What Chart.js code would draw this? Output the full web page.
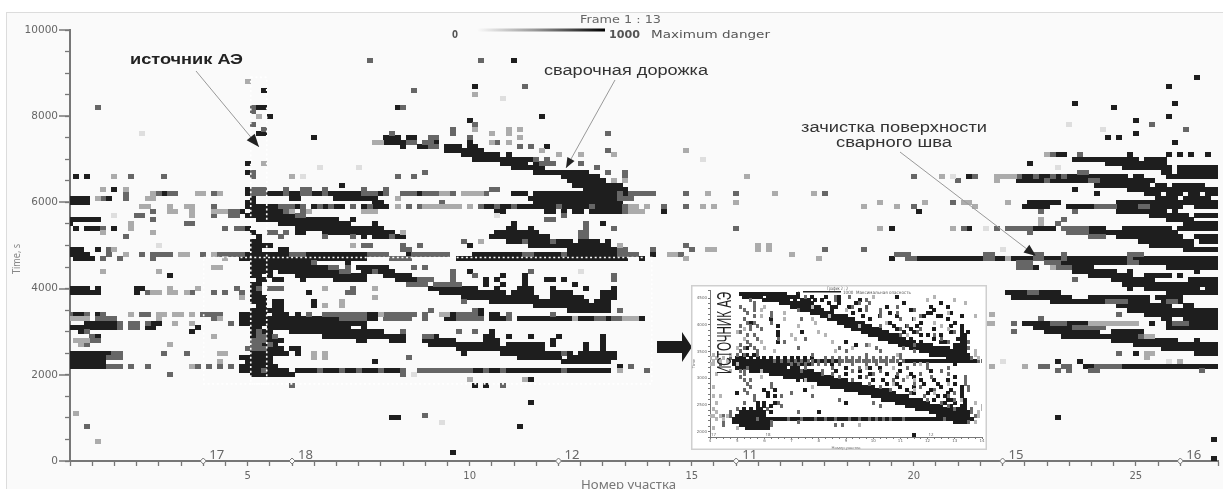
<!DOCTYPE html>
<html>
<head>
<meta charset="utf-8">
<title>Frame 1 : 13</title>
<script src="https://cdn.jsdelivr.net/npm/chart.js@4"></script>
<style>
    html, body { margin: 0; padding: 0; background: #fff; overflow: hidden; }
    #mainChart { position: absolute; left: 0; top: 0; filter: blur(0.45px); }
    #insetChart { position: absolute; left: 691px; top: 285px; filter: blur(0.4px); }
</style>
</head>
<body>
<canvas id="mainChart" width="1223" height="489"></canvas>
<canvas id="insetChart" width="296" height="165"></canvas>
<script>
// cells are [time, [location steps]], one step = 1/8 of a section
const darkCells = [
    [9300,[80]],[8900,[203]],[8700,[73,198]],[8600,[35]],[8300,[181,199]],[8200,[34,35,59,188]],
    [8000,[36,85,198]],[7900,[72,192]],[7800,[33]],[7600,[34,35,192,97]],[7500,[44,57,58,59,61,62,187,189]],
    [7400,[56,57,58,59,60,66,72,199]],[7300,[60,63,64,68,69,70,72,73,86]],[7200,[68,69,70,71,72,73,74]],
    [7100,[71,72,73,74,75,76,77,79,178,179,191,198,200,202,205]],
    [7000,[73,74,75,76,77,78,79,80,81,82,83,181,182,183,184,185,186,187,188,189,190,191,192,194,195,196,197]],
    [6900,[32,78,79,80,81,82,84,173,187,188,189,190,191,192,193,194,195,196,197]],
    [6800,[80,81,82,83,84,85,190,191,192,193,194,195,196,197,198,200,201,202,203,204,205,206,207]],
    [6700,[32,84,85,86,87,88,89,90,91,92,93,197,198,200,201,202,203,204,205,206,207]],
    [6600,[1,3,89,90,91,92,93,94,95,172,173,175,176,178,180,181,182,183,184,185,186,187,188,189,190,192,193,198,199,200,201,202,203,204,205,206,207,162]],
    [6500,[90,91,92,93,94,95,96,171,172,173,174,175,177,178,179,180,181,182,183,186,187,188,189,190,191,192,193,194,195]],
    [6400,[49,91,92,93,94,95,96,97,98,99,185,186,187,188,189,190,191,192,193,194,196,197,199,200,201,202,203,204]],
    [6300,[8,32,93,94,95,96,97,98,99,100,181,191,192,193,194,195,196,197,198,199,200,201,202,203,204,205,206,207]],
    [6200,[17,32,36,37,38,40,41,44,45,47,48,49,50,51,52,54,55,56,63,80,81,82,84,85,86,87,88,89,90,91,92,93,94,95,96,97,98,99,100,185,194,195,196,198,199,200,202,203,205,206,207]],
    [6100,[0,1,2,3,7,33,40,41,48,49,50,51,52,53,54,55,83,84,85,86,87,88,89,90,91,92,93,94,95,96,97,98,99,100,196,197,198,199,201,202,203,204,205]],
    [6000,[0,1,2,3,32,33,55,56,84,85,86,87,88,89,90,91,92,93,94,95,96,97,98,99,173,174,175,176,177,178,189,190,191,192,193,194,195,196,197,198,199,200,201,202,203,204,205,206,207]],
    [5900,[32,33,34,35,36,37,41,44,46,48,49,53,55,56,57,75,76,78,79,81,82,83,84,85,86,87,89,90,91,92,93,95,96,97,98,99,172,173,174,175,176,180,181,182,183,184,189,190,191,192,193,194,195,196,197,198,199,200,203,204,205,206,207]],
    [5800,[31,33,34,35,36,37,38,77,78,86,87,89,91,92,94,95,96,97,98,99,100,107,153,189,190,191,192,193,194,195,196,197,199]],
    [5700,[32,33,34,35,36,37,38,39,40,195,196,197,198,199,200,201,203,204,205,206,207]],
    [5600,[0,1,2,3,4,5,34,35,36,37,38,39,40,41,42,43,44,45,46,47,48,51,198,199,200,201,202]],
    [5500,[0,38,39,40,41,42,43,44,45,46,47,48,49,50,55,80,96,201,202,203,204,205,206,207]],
    [5400,[1,3,4,5,8,32,41,42,43,44,45,46,47,48,49,50,51,52,53,54,55,56,79,80,83,148,162,174,175,176,177,184,185,186,190,191,192,193,194,195,196,197,198,200,201,202,203,204,205,206,207]],
    [5300,[33,41,42,46,47,48,49,50,51,52,53,54,55,56,57,58,77,78,79,80,81,82,83,84,184,185,186,187,188,189,190,191,192,193,194,195,196,197,198,199]],
    [5200,[34,53,55,56,57,58,59,60,76,77,78,79,80,81,82,83,84,85,86,189,190,191,192,193,194,195,196,197,198,199,200,203,204,205,206,207]],
    [5100,[33,34,79,80,81,82,83,84,85,86,87,88,89,90,92,93,94,95,97,193,194,195,196,197,198,199,200,201,202,204,205,206,207]],
    [5000,[33,34,35,36,72,83,84,85,86,87,88,89,90,91,92,93,94,95,96,97,195,196,197,198,199,200,201,202]],
    [4900,[0,1,2,5,33,34,38,39,90,91,92,93,94,95,96,97,98,99,201,202,203,204,205,206,207]],
    [4800,[0,1,2,3,31,32,33,34,35,36,37,38,39,43,44,45,46,47,48,49,50,51,52,53,61,73,74,75,76,77,78,79,80,81,84,85,86,87,88,90,91,92,93,94,95,96,97,98,105]],
    [4700,[1,2,3,4,31,32,33,34,35,36,37,38,39,40,41,42,43,44,45,46,47,48,49,50,51,52,53,70,71,72,73,74,75,76,77,78,79,80,81,82,83,84,85,86,87,88,89,90,91,92,93,94,95,96,97,98,99,100,103,148,153,154,155,156,157,158,159,160,161,162,163,164,165,167,168,169,170,171,172,173,176,177,178,180,181,182,183,184,185,186,187,188,189,190,192,193,194,195,196,197,198,199,200,201,202,203,204,205,206,207]],
    [4600,[33,34,35,36,37,38,39,40,41,42,43,50,178,179,180,181,182,183,184,185,186,187,188,189,190,193,194,195,196,197,198,199,200,201,202,203,204,205,206,207]],
    [4500,[33,34,35,36,37,38,39,40,41,42,43,44,45,46,52,53,54,55,56,57,174,181,182,183,184,198,199,200,201,202,203,204,205,206,207]],
    [4400,[33,34,35,36,38,39,40,41,42,43,44,45,46,47,48,49,50,53,54,55,56,57,58,72,181,182,183,184,185,186,187,188,191,203]],
    [4300,[18,33,34,36,41,42,43,44,45,46,47,48,49,50,51,52,53,57,58,59,60,61,78,82,184,185,186,187,188,189,190,191,194,195,196,197,198,200]],
    [4200,[34,35,37,38,42,48,49,50,51,52,53,59,60,61,62,75,77,82,86,87,89,188,189,190,191,192,193,194,195,202,203,204,205,206,207]],
    [4100,[33,34,75,78,82,91,190,191,192,193,194,195,196,197,198,199,200,201,202,203,204,205,206,207]],
    [4000,[0,1,2,3,5,12,13,33,34,36,65,66,67,68,69,70,71,72,73,77,81,82,83,87,93,98,191,194,195,196,197,198,199,200,201,202,203,205,206,207]],
    [3900,[0,1,2,3,4,5,12,33,34,43,67,68,69,70,71,72,73,74,75,76,77,78,80,81,82,83,87,88,89,90,96,97,98,169,170,171,172,175,176,177,178,198,199,200,201,202,203,204,205,206,207]],
    [3800,[33,34,35,71,72,73,74,75,76,77,78,79,80,81,82,83,84,87,88,89,90,91,92,96,97,98,170,171,172,173,174,175,176,177,178,179,180,184,185,186,187,188,189,190,191,192,193,194,196,197,198,199,200]],
    [3700,[33,34,35,37,38,44,76,77,78,79,80,81,82,83,84,85,86,87,88,89,90,91,92,93,95,96,97,177,178,179,180,181,182,183,184,185,186,191,192,193,194,197,200]],
    [3600,[34,35,37,38,44,84,85,86,87,88,89,90,91,92,93,94,95,96,97,189,190,191,192,193,194,195,196,197,198,201,202]],
    [3500,[33,34,35,36,37,38,74,90,91,92,93,94,95,96,97,191,192,193,194,195,196,197,198,199,200,201,202,203,204,205,206,207]],
    [3400,[1,2,5,31,32,33,34,35,37,38,39,41,54,55,69,74,76,77,194,195,196,197,198,199,200,201,202,203,204,205,206,207]],
    [3300,[31,32,33,34,35,36,37,38,39,40,41,42,43,44,45,46,47,48,54,55,68,69,76,77,78,81,82,83,84,85,86,87,88,89,90,91,92,93,94,97,103,197,198,201,202,203,204,205,206,207]],
    [3200,[3,4,5,6,7,8,15,16,31,32,33,34,35,36,37,38,39,40,41,42,43,44,45,46,47,48,49,50,51,52,53,172,173,174,175,176,180,181,182,183,195,198,202,203,204,205,206,207]],
    [3100,[0,1,2,3,4,5,6,7,8,14,15,23,33,34,36,37,38,39,40,41,42,43,44,45,46,47,48,49,50,53,174,175,176,177,178,179,180,198,199,200,201,202,203,204,205,206,207]],
    [3000,[2,22,33,35,36,40,41,42,43,44,45,46,47,48,49,50,51,52,53,54,55,56,76,176,177,178,179,180,181,182,183,184,185,188,189,190,191,192,193]],
    [2900,[5,33,36,46,47,48,49,50,51,52,53,54,55,56,57,58,59,60,64,65,66,75,76,79,83,88,96,179,180,181,182,183,184,185,186,187,188,189,190,191,192]],
    [2800,[36,37,38,52,53,58,59,60,64,65,66,67,68,69,75,76,77,87,96,188,189,190,191,192,193,194,195,196,197,198,199,203]],
    [2700,[35,37,65,66,67,68,69,70,71,72,73,74,75,76,77,79,80,81,82,83,84,85,87,93,96,192,193,194,195,196,197,198,199,200,201,202,203,204,205,206,207]],
    [2600,[36,37,38,40,41,70,71,72,73,74,75,76,77,78,79,80,81,82,83,84,85,93,96,197,198,199,200,201,202,203,204,205,206,207]],
    [2500,[0,1,2,3,4,5,6,7,33,34,35,36,37,38,39,41,71,78,79,80,81,82,83,84,85,86,87,88,89,90,92,93,94,95,96,97,98,192,203,204,205,206,207]],
    [2400,[0,1,2,3,4,5,6,31,32,33,34,35,36,81,82,83,84,85,86,87,88,90,91,92,93,94,95,96,97,98]],
    [2300,[0,1,2,3,4,5,6,32,33,34,35,36,55,89,90,91,92,93,94,95,96,97,178,182]],
    [2200,[0,1,2,3,4,5,6,31,32,33,34,35,36,37,99,183,184,190,191,192,193,194,195,196,197,198,199,200,201,202,203,204,205,206,207]],
    [2100,[31,32,33,34,35,36,37,38,39,41,42,43,44,46,47,48,50,51,53,54,55,57,58,59,73,74,76,77,79,80,81,82,83,84,85,86,87,88,90,91,92,93,94,95,96,97]],
    [2000,[33,34,35,36,37,38,39,40]],
    [1900,[83]],[1750,[75,73]],[1350,[83]],[1000,[58,59]],[800,[81]],[200,[69]],
    [1000,[178]],[500,[206]],[50,[206]]
];
const midCells = [
    [9300,[54,74]],[8700,[82]],[8600,[62]],[8200,[5,33,60]],[8100,[33]],[7800,[33,73,195]],[7700,[35,69,201]],
    [7600,[58,69,97]],[7500,[65,66,72]],[7400,[61,62,64,65,77]],[7300,[65,66,81,83]],[7200,[97]],
    [7100,[176,177,182]],[7000,[84,86]],[6900,[92,85,86,87]],[6800,[95]],[6700,[33,64,97,100,182,183]],
    [6600,[11,17,33,59,62,100,152,163,171,174,177,179]],[6500,[160,176,184,185]],
    [6300,[33,34,35,39,42,43,46,53,57,76,77]],
    [6200,[10,16,18,19,26,33,34,35,39,42,43,46,53,54,55,57,60,61,62,64,65,66,69,75,101,104,111,120,136,99,102,103,105]],
    [6100,[6,10,99,100,101]],[6000,[67,159,169]],
    [5900,[26,38,39,40,42,45,47,51,54,61,63,74,77,80,88,94,100,101,107,111,152,185,186,187,188,193,194]],
    [5800,[15,29,30,39,42,53,100,175,181]],[5700,[12,13,26,29,30,41,42,89]],[5600,[15,86,87,179]],
    [5500,[21,22,93,178]],[5400,[6,28,30,31,93,98,120,161,167,169,170,171,172,173,179,180,181,182,183]],
    [5300,[36,37,39,92,93,173,180,181,182,183]],[5200,[10,38,46,51,92,93,184,185,186,58]],
    [5100,[71,82,87]],[5000,[60,63,111,53,54]],[4900,[7,99,100,105,112,136,143,60,61]],
    [4800,[7,13,15,16,17,18,24,27,28,29,30,31,40,41,42,54,55,56,57,62,63,64,65,66,67,68,82,83,89,99,100,101,102,109,110,149,150,151,165,166,174,175,179,191,192,193]],
    [4700,[6,9,15,58,59,60,61,151,152,165,166,174,175,179,191]],[4600,[44,171,172,173,176,177,178,191,192]],
    [4500,[47,48,50,62,64,171,172,173,178,179,180]],[4400,[49,50,69,55,83]],[4300,[73,98,69]],[4200,[63,64,65,69,98,181]],
    [4100,[61,62,63,64,66,67,68,69,70]],[4000,[30,34,36,37,38,46,51]],[3900,[14,22,26,28,31,50,51,173,174]],
    [3700,[71,187,188,189,190,198,199]],[3600,[46]],[3500,[65,73,99]],
    [3400,[0,3,6,13,14,24,25,26,27,43,46,47,48,49,50,51,52,53,57,58,59,60,61,62,64,70,71,72,73,79,87,189]],
    [3300,[5,6,7,8,26,49,50,51,52,53,57,58,59,60,61,64,70,71,72,73,74,79,95,96,98,99,175]],
    [3200,[9,11,12,14,29,177,178,179,184,185,186,187,199,200,201,170]],[3100,[9,11,12,181,182,183,184,185,186]],
    [3000,[3,34,60,70,73,170]],[2900,[4,34,35,37,64,65,193,194,195]],[2800,[4,5,33,34,35]],
    [2700,[3,33,34,36]],[2600,[32,33,34,35]],[2500,[8,9,17,21,89,189]],[2400,[7,8,9,61]],
    [2200,[7,8,9,11,14,23,25,27,29,175,176,179,180,185,186,187,188,189,101]],
    [2100,[35,45,49,52,56,60,63,64,65,66,67,68,69,70,71,72,75,78,89,99,104,178,180,184,185,204]],
    [2000,[18,60]],[1750,[40,78]],[1050,[64]],[800,[3]]
];
const lightCells = [
    [7600,[76,79]],[8500,[73]],[8000,[34]],[7700,[73,79,81]],[8800,[32]],[6900,[35]],
    [7500,[81]],[7400,[55,56,76,79]],[7200,[85,111]],[7100,[88,92,98,176]],
    [6600,[8,40,122,157,167,168,169,170]],[6500,[98,100,167]],[6300,[6,10]],
    [6200,[15,23,24,27,67,68,71,72,73,74,115,127,134]],[6100,[5,14,15,59]],[6000,[120,146,154,161,162,169]],
    [5900,[13,14,18,21,22,59,64,65,66,67,68,69,70,72,101,102,104,114,116,143,149,163]],
    [5800,[18,19,22,26,27,28,40,43,53,54,55,101,102,103]],[5700,[22]],[5600,[175]],[5500,[11,175]],
    [5400,[11,146,159]],[5300,[6,15,60]],[5100,[74]],[5000,[99,51,124,126]],[4900,[8,115,116,124,126]],
    [4800,[10,20,21,26,108,109,130]],[4700,[28,111,169,135]],[4500,[26,27,177]],[4400,[6,16]],[3900,[15,16,18,21,19]],
    [4000,[18,23,46,55]],[3800,[31,55]],[3700,[49]],[3600,[49,46]],[3400,[11,16,17,19,20,22,56,67,68,166]],
    [3300,[0,1,2,3,16,27,91,100,101,102]],[3200,[19,22,166,184,185,186,187,188,189,190,191,192,165]],
    [2900,[26,194,195]],[2800,[1,2,3]],[2700,[2,18]],[2500,[27,28,44,46,194,195]],[2400,[194,44,46]],
    [2300,[27,200]],[2200,[22,166,172]],[2100,[150,99]],[1900,[72,82]],[1100,[1]],[450,[5]]
];
const paleCells = [
    [7600,[13]],[8400,[78]],[7800,[180]],[7700,[186]],[7000,[114]],[6800,[45,52,178]],[6600,[42,159]],
    [5700,[8,77]],[5400,[165]],[5000,[16]],[4900,[168]],[4400,[92]],[3400,[148]],[2300,[168,198]],[2000,[62]],[900,[67]]
];
// the zoomed copy of the dotted box
const insetTimes = [4580,4520,4460,4400,4340,4280,4220,4160,4100,4040,3980,3920,3860,3800,3740,3680,3620,3560,3500,3440,3380,3320,3260,3200,3140,3080,3020,2960,2900,2840,2780,2720,2660,2600,2540,2480,2420,2360,2300,2240,2180,2120,2060,2000,1940];
const insetDark = [
    [9,10,11,12,13,14,15,16,17,18,19,20,21,22,26],
    [10,11,12,13,14,15,17,18,19,20,21,22,23,24,25,26,30,34,38,55],
    [16,17,18,19,20,21,22,23,25,27,28,29,31,33,38,44],
    [21,22,23,24,25,26,27,28,29,30,35,38,43,57,68],
    [24,25,26,27,28,29,30,31,32,36,37,41,52,65,70],
    [27,28,29,30,31,32,33,36,44,59,66],
    [30,31,32,33,34,35,36,42,53,64,65,71],
    [33,34,35,36,37,38,39,40,45,50,55,63,67,68,74],
    [35,36,37,38,39,40,41,42,47,18,60,70],
    [38,39,40,41,42,43,44,45,53,62,12,72],
    [20,40,41,42,43,44,45,46,47,54,58,61,71,74],
    [42,43,44,45,46,47,48,49,50,55,59,66,74],
    [20,27,45,46,47,48,49,50,51,52,57,60,71,74,76],
    [20,47,48,49,50,51,52,53,54,55,62,64,68,74,75],
    [50,51,52,53,54,55,56,57,59,66,73,74,75],
    [20,40,53,54,55,56,57,58,59,60,62,68,69,74,75],
    [43,56,57,58,59,60,61,62,63,64,65,72,73,74,75],
    [11,59,60,61,62,63,64,65,66,67,68,69,70,72,73,74,75],
    [62,63,64,65,66,67,68,69,70,71,72,73,74,75],
    [10,11,13,65,66,67,68,69,70,71,72,73,74,75,76],
    [8,9,10,12,14,16,18,20,22,24,26,28,30,70,71,72,73,74,75,76],
    [7,8,9,10,11,12,13,14,15,16,17,18,20,22,24,26,28,31,33,35,37,58,59,60,61,62,63,64,65,66,67,68,69,70,71,72,73,74,75,76,77,78],
    [7,8,9,10,11,12,13,14,15,16,17,18,19,20,21,22,23,25,27,29,36,56,72],
    [8,9,10,11,12,13,14,15,16,17,18,19,20,21,22,24,25,26,40,47,50],
    [12,13,14,15,16,17,18,19,20,21,22,23,24,25,26,28,29,30,37,44,56,65],
    [18,19,20,21,22,23,24,25,26,27,28,29,30,31,32,40,47,52,59],
    [22,23,24,25,26,27,28,29,30,31,32,33,34,35,36,44,55,60,72],
    [26,28,29,30,31,32,33,34,35,36,37,38,39,40,48,51,62,66,70],
    [32,33,34,35,36,37,38,39,40,41,42,43,44,52,55,63,67,72],
    [36,37,38,39,40,41,42,43,44,45,46,47,48,56,60,68,74],
    [16,19,28,40,41,42,43,44,45,46,47,48,49,50,51,52,58,65,71,74],
    [8,17,44,45,46,47,48,49,50,51,52,53,54,60,64,70,74],
    [17,19,48,49,50,51,52,53,54,55,56,57,58,67,69,74],
    [51,52,53,54,55,56,57,58,59,60,61,62,66,70,71,74,75],
    [14,16,19,40,55,56,57,58,59,60,61,62,63,64,69,72,75],
    [14,16,18,58,59,60,61,62,63,64,65,66,67,68,71,74,75],
    [10,12,14,15,61,62,63,64,65,66,67,68,69,70,71,72,73,74,75],
    [9,10,11,12,13,14,15,16,18,32,65,66,67,68,69,70,71,72,73,74,75,76],
    [8,9,10,11,12,13,14,15,16,67,68,69,70,71,72,73,74,75,76],
    [7,8,9,10,11,12,13,14,15,16,17,18,19,20,21,22,24,25,26,28,29,30,32,33,35,36,38,39,40,42,43,45,46,48,50,52,54,55,56,58,59,60,61,62,63,64,65,66,67,68,70,71,72,73,74,75,76,77],
    [7,8,9,10,11,12,13,14,15,16,17,72,73,74,75],
    [9,10,11,12,13,14,15,16,17],
    [11,12,13,14,15,16,17],
    [],[60]
];
const insetMid = [
    [],[28,37,41],[37,46,12],[13,44,47],[9,13,42,46,55],[10,13,50,46,60,26],[11,50,55,18],[13,18,62,50],[10,56,27,22],[11,13,18,66,31],
    [9,12,14,58,50],[12,15,62,56],[9,61,72],[11,13,56,66],[10,14,20,28,68],[11,22,70,76],[9,12,46,60],[10,13,26,38,49,57,76],[9,14,40,50,60],[8,10,14,30,46,56],
    [6,34,36,38,40,42,44,46,48,50,52,54,56,77],[19,21,23,25,27,29,30,32,34,36,38,39,40,41,42,43,44,45,46,47,48,49,50,51,52,53,54,55,57,79,80,81],[3,24,26,28,30,32,34,38,42,46,49,52,60,64],[11,28,36,44,58,64,70],[9,10,27,33,42,50,68],[10,33,36,48,55,62,70],[9,38,46,65,75],[10,12,42,54,57,75],[11,18,47,60,70,75],[12,18,50,62,76],
    [10,53,66,76],[11,24,59,72],[13,21,30,63,70],[13,38,64,72],[10,20,48,68],[21,50,70],[8,17,72,77],[6,26,77],[4,5,6,78],[14,23,27,31,34,37,41,44,47,49,51,53,57,69],[4,18,26,76],[4,18,37,39],[],[],[]
];
const insetLight = [
    [],[48,66],[64,72],[75],[16,30],[15,40],[22,70],[15,35,78],[22,30,60],[31,52,66],
    [26,44,68],[10,70],[8,32],[24,34,58],[10,25],[15,36],[47],[8,16,42],[19,37,78],[1,6,55,78],
    [0,2,4,79],[1,3,5,82],[0,1,8,62],[46,54],[6,15],[2],[15,58],[28,60],[54,70],[1,30],
    [60],[66],[1,3],[74],[2,78],[80],[1,80],[2,79],[0,1,3,5,79,81],[2,4],[78],[44],[1,8],[],[]
];
// sensor positions along the line and their numbers
const sensorPos = [4, 6, 12, 16, 22, 26];
const sensorNames = ['17', '18', '12', '11', '15', '16'];
const insetSensorPos = [4, 6, 12];
const insetSensorNames = ['17', '18', '12'];
const sourceBox = { x0: 5.07, x1: 5.43, t0: 1790, t1: 8900 };
const zoomBox = { x0: 4.01, x1: 14.1, t0: 1790, t1: 4720 };

const AXIS = '#777';
const TEXT = '#666';

function cellSprite(w, h, color) {
    const c = document.createElement('canvas');
    c.width = w;
    c.height = h;
    const g = c.getContext('2d');
    g.fillStyle = color;
    g.fillRect(0, 0, w, h);
    return c;
}

function toPoints(rows) {
    return rows.flatMap(([t, bins]) => bins.map(b => ({ x: 1 + b / 8, y: t })));
}

function insetPoints(lists) {
    return lists.flatMap((bins, i) => bins.map(b => ({ x: 4 + b / 8, y: insetTimes[i] })));
}

// text squeezed or stretched to the width it has in the picture
function putText(ctx, text, x, y, font, color, width, align) {
    ctx.save();
    ctx.font = font;
    ctx.fillStyle = color;
    ctx.textBaseline = 'middle';
    ctx.textAlign = 'left';
    const sx = width / ctx.measureText(text).width;
    const left = align === 'center' ? x - width / 2 : x;
    ctx.translate(left, y);
    ctx.scale(sx, 1);
    ctx.fillText(text, 0, 0);
    ctx.restore();
}

function arrow(ctx, x0, y0, x1, y1, size) {
    const a = Math.atan2(y1 - y0, x1 - x0);
    ctx.save();
    ctx.strokeStyle = '#999';
    ctx.lineWidth = 1;
    ctx.beginPath();
    ctx.moveTo(x0, y0);
    ctx.lineTo(x1, y1);
    ctx.stroke();
    ctx.fillStyle = '#222';
    ctx.beginPath();
    ctx.moveTo(x1, y1);
    ctx.lineTo(x1 - size * Math.cos(a - 0.38), y1 - size * Math.sin(a - 0.38));
    ctx.lineTo(x1 - size * Math.cos(a + 0.38), y1 - size * Math.sin(a + 0.38));
    ctx.closePath();
    ctx.fill();
    ctx.restore();
}

function dottedRect(chart, box) {
    const { ctx, scales } = chart;
    const x0 = scales.x.getPixelForValue(box.x0), x1 = scales.x.getPixelForValue(box.x1);
    const y0 = scales.y.getPixelForValue(box.t0), y1 = scales.y.getPixelForValue(box.t1);
    ctx.strokeRect(x0, y1, x1 - x0, y0 - y1);
}

const framePlugin = {
    id: 'frame',
    beforeDraw(chart) {
        const { ctx, width, height } = chart;
        ctx.save();
        ctx.fillStyle = '#fafafa';
        ctx.fillRect(6, 13, width, height);
        ctx.strokeStyle = '#dcdcdc';
        ctx.lineWidth = 1;
        ctx.strokeRect(6.5, 12.5, width, height);
        ctx.restore();
    }
};

const notesPlugin = {
    id: 'notes',
    afterDatasetsDraw(chart) {
        const { ctx, scales } = chart;
        ctx.save();
        ctx.strokeStyle = '#fff';
        ctx.lineWidth = 1.6;
        ctx.setLineDash([2, 2.6]);
        dottedRect(chart, zoomBox);
        dottedRect(chart, sourceBox);
        ctx.restore();

        // longer ticks at the labelled values
        ctx.save();
        ctx.strokeStyle = AXIS;
        ctx.lineWidth = 1.5;
        scales.y.ticks.forEach(t => {
            if (t.value % 2000 !== 0) return;
            const y = Math.round(scales.y.getPixelForValue(t.value));
            ctx.beginPath();
            ctx.moveTo(59, y);
            ctx.lineTo(70, y);
            ctx.stroke();
        });
        ctx.restore();

        sensorPos.forEach((p, i) => {
            putText(ctx, sensorNames[i], scales.x.getPixelForValue(p) + 6, 456, '12px "Noto Sans"', TEXT, 15);
        });

        // axis captions
        putText(ctx, 'Номер участка', 581, 486, '12px "Noto Sans"', '#777', 95);
        ctx.save();
        ctx.translate(17, 259);
        ctx.rotate(-Math.PI / 2);
        putText(ctx, 'Time, s', 0, 0, '10px "Noto Sans"', '#888', 30, 'center');
        ctx.restore();

        // danger scale
        const bar = ctx.createLinearGradient(477, 0, 605, 0);
        bar.addColorStop(0, '#fafafa');
        bar.addColorStop(0.45, '#9a9a9a');
        bar.addColorStop(1, '#000');
        ctx.fillStyle = bar;
        ctx.fillRect(477, 28.5, 128, 3);
        putText(ctx, 'Frame 1 : 13', 580, 20, '11px "DejaVu Sans"', TEXT, 81);
        putText(ctx, '0', 452, 35, 'bold 11px "DejaVu Sans"', '#555', 6);
        putText(ctx, '1000', 609, 35, 'bold 11px "DejaVu Sans"', '#555', 31);
        putText(ctx, 'Maximum danger', 651, 35, '11px "DejaVu Sans"', '#555', 119);

        putText(ctx, 'источник АЭ', 130, 60, 'bold 14px "Liberation Sans"', '#222', 113);
        putText(ctx, 'сварочная дорожка', 544, 71, '14px "Liberation Sans"', '#333', 164);
        putText(ctx, 'зачистка поверхности', 801, 128, '14px "Liberation Sans"', '#333', 186);
        putText(ctx, 'сварного шва', 894, 143, '14px "Liberation Sans"', '#333', 116, 'center');

        arrow(ctx, 196, 71, 259, 147, 14);
        arrow(ctx, 615, 80, 566, 168, 11);
        arrow(ctx, 900, 152, 1036, 256, 13);

        // block arrow pointing at the inset
        ctx.fillStyle = '#1c1c1c';
        ctx.beginPath();
        ctx.moveTo(657, 341);
        ctx.lineTo(682, 341);
        ctx.lineTo(682, 332);
        ctx.lineTo(692, 347);
        ctx.lineTo(682, 362);
        ctx.lineTo(682, 353);
        ctx.lineTo(657, 353);
        ctx.closePath();
        ctx.fill();
    }
};

const mainChart = new Chart(document.getElementById('mainChart').getContext('2d'), {
    type: 'scatter',
    data: {
        datasets: [
            { data: toPoints(paleCells), pointStyle: cellSprite(6, 5, '#dedede') },
            { data: toPoints(lightCells), pointStyle: cellSprite(6, 5, '#ababab') },
            { data: toPoints(midCells), pointStyle: cellSprite(6, 5, '#666') },
            { data: toPoints(darkCells), pointStyle: cellSprite(6, 5, '#1e1e1e') },
            {
                data: sensorPos.map(p => ({ x: p, y: 0 })),
                pointStyle: 'rectRot',
                pointRadius: 3,
                backgroundColor: '#fafafa',
                borderColor: '#777',
                borderWidth: 1,
                clip: false
            }
        ]
    },
    options: {
        responsive: false,
        animation: false,
        layout: { padding: { top: 30, left: 0, right: 0, bottom: 0 } },
        plugins: { legend: { display: false }, tooltip: { enabled: false } },
        scales: {
            x: {
                type: 'linear',
                min: 1,
                max: 26.85,
                afterFit: s => { s.height = 28; },
                border: { color: AXIS, width: 2 },
                grid: { drawOnChartArea: false, tickColor: AXIS, tickLength: 5, tickWidth: 1.3 },
                ticks: {
                    stepSize: 0.5,
                    autoSkip: false,
                    maxRotation: 0,
                    padding: 4,
                    color: TEXT,
                    font: { family: 'DejaVu Sans', size: 10 },
                    callback: v => (v % 5 === 0 ? String(v) : '')
                }
            },
            y: {
                min: 0,
                max: 10000,
                afterFit: s => { s.width = 70; },
                border: { color: AXIS, width: 2 },
                grid: { drawOnChartArea: false, tickColor: AXIS, tickLength: 5, tickWidth: 1.3 },
                ticks: {
                    stepSize: 500,
                    autoSkip: false,
                    padding: 7,
                    color: TEXT,
                    font: { family: 'DejaVu Sans', size: 10.5 },
                    callback: v => (v % 2000 === 0 ? String(v) : '')
                }
            }
        }
    },
    plugins: [framePlugin, notesPlugin]
});

const insetNotes = {
    id: 'insetNotes',
    beforeDraw(chart) {
        const { ctx, width, height } = chart;
        ctx.save();
        ctx.fillStyle = '#fff';
        ctx.fillRect(0, 0, width, height);
        ctx.strokeStyle = '#cfcfcf';
        ctx.lineWidth = 1.5;
        ctx.strokeRect(0.75, 0.75, width - 1.5, height - 1.5);
        ctx.restore();
    },
    afterDatasetsDraw(chart) {
        const { ctx, scales } = chart;
        insetSensorPos.forEach((p, i) => {
            putText(ctx, insetSensorNames[i], scales.x.getPixelForValue(p) + 1, 150, '4px "Noto Sans"', TEXT, 5);
        });
        putText(ctx, 'График 2 : 2', 136, 4, '4.5px "DejaVu Sans"', '#555', 21);
        putText(ctx, '0 ', 107, 8, '4px "DejaVu Sans"', '#555', 2);
        ctx.fillStyle = '#222';
        ctx.fillRect(112, 6, 38, 1.5);
        putText(ctx, '1000  Максимальная опасность', 152, 8, '4.5px "DejaVu Sans"', '#555', 68);

        // big rotated caption
        ctx.save();
        ctx.translate(34, 48);
        ctx.rotate(-Math.PI / 2);
        putText(ctx, 'ИСТОЧНИК АЭ', 0, 0, '20px "Liberation Sans"', '#222', 82, 'center');
        ctx.restore();
    }
};

const insetChart = new Chart(document.getElementById('insetChart').getContext('2d'), {
    type: 'scatter',
    data: {
        datasets: [
            { data: insetPoints(insetLight), pointStyle: cellSprite(3, 4, '#b5b5b5') },
            { data: insetPoints(insetMid), pointStyle: cellSprite(3, 4, '#6a6a6a') },
            { data: insetPoints(insetDark), pointStyle: cellSprite(4, 4, '#1c1c1c') }
        ]
    },
    options: {
        responsive: false,
        animation: false,
        layout: { padding: { top: 4, left: 0, right: 4, bottom: 0 } },
        plugins: { legend: { display: false }, tooltip: { enabled: false } },
        scales: {
            x: {
                type: 'linear',
                min: 4,
                max: 14,
                afterFit: s => { s.height = 13; },
                border: { color: '#777', width: 1 },
                grid: { drawOnChartArea: false, tickColor: '#777', tickLength: 2 },
                ticks: {
                    stepSize: 0.25,
                    autoSkip: false,
                    maxRotation: 0,
                    padding: 0,
                    color: '#666',
                    font: { family: 'DejaVu Sans', size: 4 },
                    callback: v => (Number.isInteger(v) ? String(v) : '')
                },
                title: { display: true, text: 'Номер участка', color: '#777', font: { family: 'Noto Sans', size: 4 }, padding: 0 }
            },
            y: {
                min: 1900,
                max: 4650,
                afterFit: s => { s.width = 19; },
                border: { color: '#777', width: 1 },
                grid: { drawOnChartArea: false, tickColor: '#777', tickLength: 2 },
                ticks: {
                    stepSize: 100,
                    autoSkip: false,
                    padding: 1,
                    color: '#666',
                    font: { family: 'DejaVu Sans', size: 4 },
                    callback: v => (v % 500 === 0 ? String(v) : '')
                },
                title: { display: true, text: 'Time', color: '#777', font: { family: 'Noto Sans', size: 4 }, padding: 0 }
            }
        }
    },
    plugins: [insetNotes]
});
</script>
</body>
</html>
